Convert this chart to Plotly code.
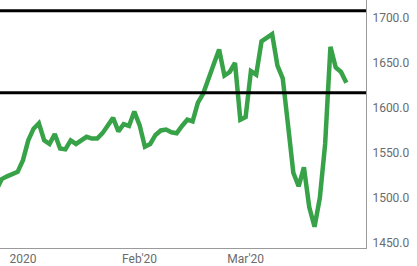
import pandas as pd
import plotly.graph_objects as go

# Trading days (weekdays) from 26 Dec 2019 to 27 Mar 2020
dates = pd.bdate_range("2019-12-26", "2020-03-27")
prices = [
    1509, 1521, 1524, 1526, 1529,
    1542, 1564, 1577, 1583, 1564, 1560, 1571, 1555, 1554, 1564,
    1560, 1564, 1568, 1566, 1566, 1572, 1580, 1589, 1574, 1582,
    1580, 1596, 1581, 1557, 1560, 1570, 1575, 1576, 1573, 1572,
    1580, 1587, 1585, 1606, 1616, 1631, 1649, 1665, 1636, 1640,
    1650, 1587, 1590, 1641, 1637, 1674, 1678, 1682, 1647, 1633,
    1581, 1528, 1513, 1534, 1490, 1468, 1500, 1560, 1668, 1645,
    1640, 1628,
]
levels = [1708, 1617]
y_ticks = [1450, 1500, 1550, 1600, 1650, 1700]
x_tick_dates = ["2020-01-02", "2020-02-03", "2020-03-02"]
x_tick_labels = ["2020", "Feb'20", "Mar'20"]

fig = go.Figure()
fig.add_trace(go.Scatter(
    x=dates, y=prices, mode="lines",
    line=dict(color="#37a247", width=4.5),
    hoverinfo="skip", showlegend=False,
))

for lv in levels:
    fig.add_shape(type="line", xref="paper", x0=0, x1=1, yref="y", y0=lv, y1=lv,
                  line=dict(color="black", width=3), layer="above")

font = dict(family="Roboto, sans-serif", size=12, color="#6b6b6b")
fig.update_layout(
    width=417, height=266,
    margin=dict(l=0, r=51, t=0, b=18),
    paper_bgcolor="white", plot_bgcolor="white",
    font=font,
    xaxis=dict(
        type="date",
        range=["2019-12-26 16:00", "2020-04-01 17:00"],
        rangebreaks=[dict(bounds=["sat", "mon"])],
        tickmode="array", tickvals=x_tick_dates, ticktext=x_tick_labels,
        showgrid=False, zeroline=False,
        showline=True, linecolor="#9a9a9a", linewidth=1,
        ticks="", tickfont=font,
    ),
    yaxis=dict(
        side="right",
        range=[1444.4, 1720],
        tickmode="array", tickvals=y_ticks,
        tickformat=".1f",
        showgrid=False, zeroline=False,
        showline=True, linecolor="#9a9a9a", linewidth=1,
        ticks="outside", ticklen=3, tickcolor="rgba(0,0,0,0)",
        tickfont=font,
    ),
)

fig.write_html("out.html")
